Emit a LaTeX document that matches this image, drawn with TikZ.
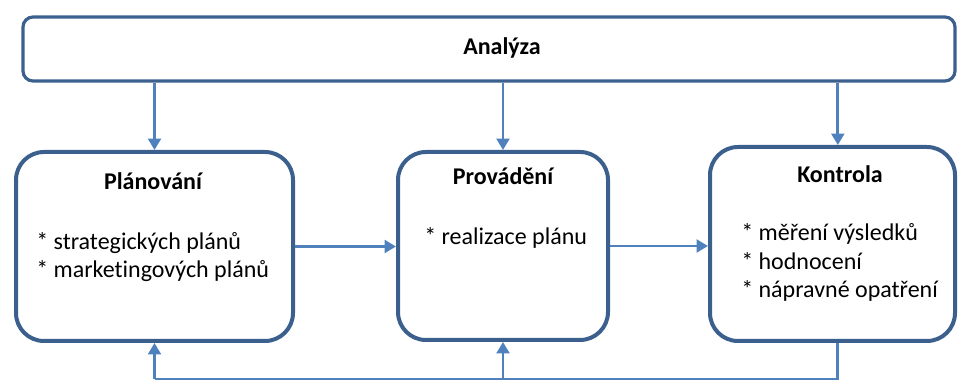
\documentclass[tikz,border=0pt]{standalone}
\usepackage{fontspec}
\setmainfont[Ligatures=NoCommon]{Carlito}
\usetikzlibrary{arrows.meta}
\definecolor{boxline}{RGB}{60,96,142}
\definecolor{flow}{RGB}{79,129,189}
\begin{document}
\begin{tikzpicture}[x=0.75pt,y=-0.75pt,
  stage/.style={draw=boxline,line width=3pt,rounded corners=21pt,fill=white,inner sep=0pt},
  head/.style={font=\fontsize{18}{21}\selectfont\bfseries,inner sep=0pt,anchor=base},
  item/.style={font=\fontsize{18}{21}\selectfont,inner sep=0pt,anchor=base west},
  plainflow/.style={draw=flow,line width=2.1pt},
  flowline/.style={plainflow,-{Triangle[width=9.5pt,length=8.5pt]}}]
\useasboundingbox (0,0) rectangle (958,381);

% boxes
\node[draw=boxline,line width=2.4pt,rounded corners=7.5pt,fill=white,inner sep=0pt,
      minimum width=699pt,minimum height=48pt] (ana) at (489,49) {};
\node[stage,minimum width=207.75pt,minimum height=141.75pt] (plan) at (154.5,246.5) {};
\node[stage,minimum width=157.5pt,minimum height=141pt] (prov) at (503,246) {};
\node[stage,minimum width=183.75pt,minimum height=145.5pt] (kon) at (832.5,244) {};

% texts
\node[head] (ta) at (502,55) {Analýza};
\node[head] (tp) at (153,190) {Plánování};
\node[item] (p1) at (36,250) {* strategických plánů};
\node[item] (p2) at (36,278) {* marketingových plánů};
\node[head] (tr) at (503,185) {Provádění};
\node[item] (r1) at (424,245) {* realizace plánu};
\node[head] (tk) at (840,183) {Kontrola};
\node[item] (k1) at (741,241) {* měření výsledků};
\node[item] (k2) at (741,270) {* hodnocení};
\node[item] (k3) at (741,298) {* nápravné opatření};

% analysis feeds every stage
\draw[flowline] (ana.south -| plan.north) -- (plan.north);
\draw[flowline] (ana.south -| prov.north) -- (prov.north);
\coordinate (ktop) at ([xshift=4pt]kon.north);
\draw[flowline] (ana.south -| ktop) -- (ktop);

% forward flow
\draw[flowline] (plan.east) -- (plan.east -| prov.west);
\draw[flowline] (prov.east) -- (prov.east -| kon.west);

% feedback loop from control
\coordinate (base) at (0,379);
\coordinate (kdrop) at ([xshift=4pt]kon.south);
\draw[plainflow] (kdrop) -- (kdrop |- base) -- (plan.south |- base);
\draw[flowline] (plan.south |- base) -- (plan.south);
\draw[flowline] (prov.south |- base) -- (prov.south);
\end{tikzpicture}
\end{document}
